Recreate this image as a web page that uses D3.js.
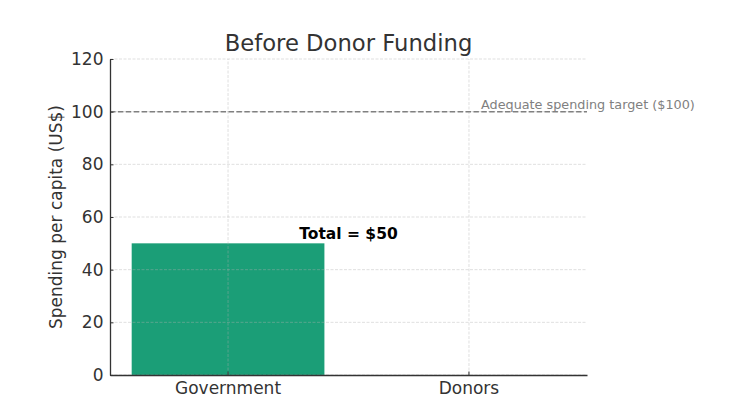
<!DOCTYPE html>
<html>
<head>
<meta charset="utf-8">
<script src="https://cdn.jsdelivr.net/npm/d3@7"></script>
<style>
  body { margin: 0; background: #fff; }
  text { font-family: "DejaVu Sans", sans-serif; }
</style>
</head>
<body>
<div class="visContainer"></div>
<script>
// Chart data.
const categories = ['Government', 'Donors'];
const spending = [50, 0];
const yTicks = [0, 20, 40, 60, 80, 100, 120];
const targetValue = 100;
const targetLabel = 'Adequate spending target ($100)';
const totalLabel = 'Total = $50';
const chartTitle = 'Before Donor Funding';
const yAxisLabel = 'Spending per capita (US$)';

const width = 753;
const height = 406;
const margin = {top: 59, right: 166, bottom: 31, left: 110};

const svg = d3.select('.visContainer')
              .append('svg')
              .attr('width', width)
              .attr('height', height);

const x = d3.scaleBand()
            .domain(categories)
            .range([margin.left, width - margin.right])
            .paddingInner(0.2)
            .paddingOuter(0.09);

// continuous x for annotations placed between categories
const xPos = d3.scaleLinear()
               .domain([0, 1])
               .range([x(categories[0]) + x.bandwidth() / 2, x(categories[1]) + x.bandwidth() / 2]);

const y = d3.scaleLinear()
            .domain([0, 120])
            .range([height - margin.bottom, margin.top]);

// Bars.
svg.selectAll('.bar')
   .data(categories)
   .enter()
   .append('rect')
   .attr('class', 'bar')
   .attr('x', d => x(d))
   .attr('width', x.bandwidth())
   .attr('y', (d, i) => y(spending[i]))
   .attr('height', (d, i) => y(0) - y(spending[i]))
   .attr('fill', '#1b9e77');

// Grid on top of bars.
const grid = svg.append('g').attr('stroke', '#b0b0b0').attr('stroke-opacity', 0.5)
                .attr('stroke-width', 0.8).attr('stroke-dasharray', '3,1.5');
grid.selectAll('.hg')
    .data(yTicks)
    .enter()
    .append('line')
    .attr('x1', margin.left)
    .attr('x2', width - margin.right)
    .attr('y1', d => y(d))
    .attr('y2', d => y(d));
grid.selectAll('.vg')
    .data(categories)
    .enter()
    .append('line')
    .attr('x1', d => x(d) + x.bandwidth() / 2)
    .attr('x2', d => x(d) + x.bandwidth() / 2)
    .attr('y1', y(0))
    .attr('y2', y(120));

// Target line.
svg.append('line')
   .attr('x1', margin.left)
   .attr('x2', width - margin.right)
   .attr('y1', y(targetValue))
   .attr('y2', y(targetValue))
   .attr('stroke', '#808080')
   .attr('stroke-width', 1.5)
   .attr('stroke-dasharray', '5.5,2.4');

svg.append('text')
   .attr('x', xPos(1.05))
   .attr('y', y(101))
   .attr('fill', '#808080')
   .attr('font-size', '12.8px')
   .text(targetLabel);

// Total label.
svg.append('text')
   .attr('x', xPos(0.5))
   .attr('y', y(51.6))
   .attr('text-anchor', 'middle')
   .attr('font-size', '15.5px')
   .attr('font-weight', 'bold')
   .attr('fill', '#000')
   .text(totalLabel);

// Axes.
const yAxis = svg.append('g')
   .attr('transform', `translate(${margin.left},0)`)
   .call(d3.axisLeft(y).tickValues(yTicks).tickSizeInner(-3.5).tickSizeOuter(0).tickPadding(6));

const xAxis = svg.append('g')
   .attr('transform', `translate(0,${y(0)})`)
   .call(d3.axisBottom(x).tickSizeInner(-3.5).tickSizeOuter(0).tickPadding(6));

[yAxis, xAxis].forEach(g => {
    g.select('.domain').attr('stroke', '#333').attr('stroke-width', 1.3);
    g.selectAll('.tick line').attr('stroke', '#333').attr('stroke-width', 1);
    g.selectAll('.tick text')
     .attr('fill', '#333')
     .attr('font-size', '17px')
     .attr('font-family', '"DejaVu Sans", sans-serif');
});
xAxis.selectAll('.tick text').attr('dy', null).attr('y', 18.5);
yAxis.selectAll('.tick text').attr('x', -6.5);

// Title.
svg.append('text')
   .attr('x', (margin.left + width - margin.right) / 2)
   .attr('y', 51)
   .attr('text-anchor', 'middle')
   .attr('font-size', '22.7px')
   .attr('fill', '#333')
   .text(chartTitle);

// Y label.
svg.append('text')
   .attr('transform', `translate(62,${(y(0) + y(120)) / 2}) rotate(-90)`)
   .attr('text-anchor', 'middle')
   .attr('font-size', '17px')
   .attr('fill', '#333')
   .text(yAxisLabel);
</script>
</body>
</html>
